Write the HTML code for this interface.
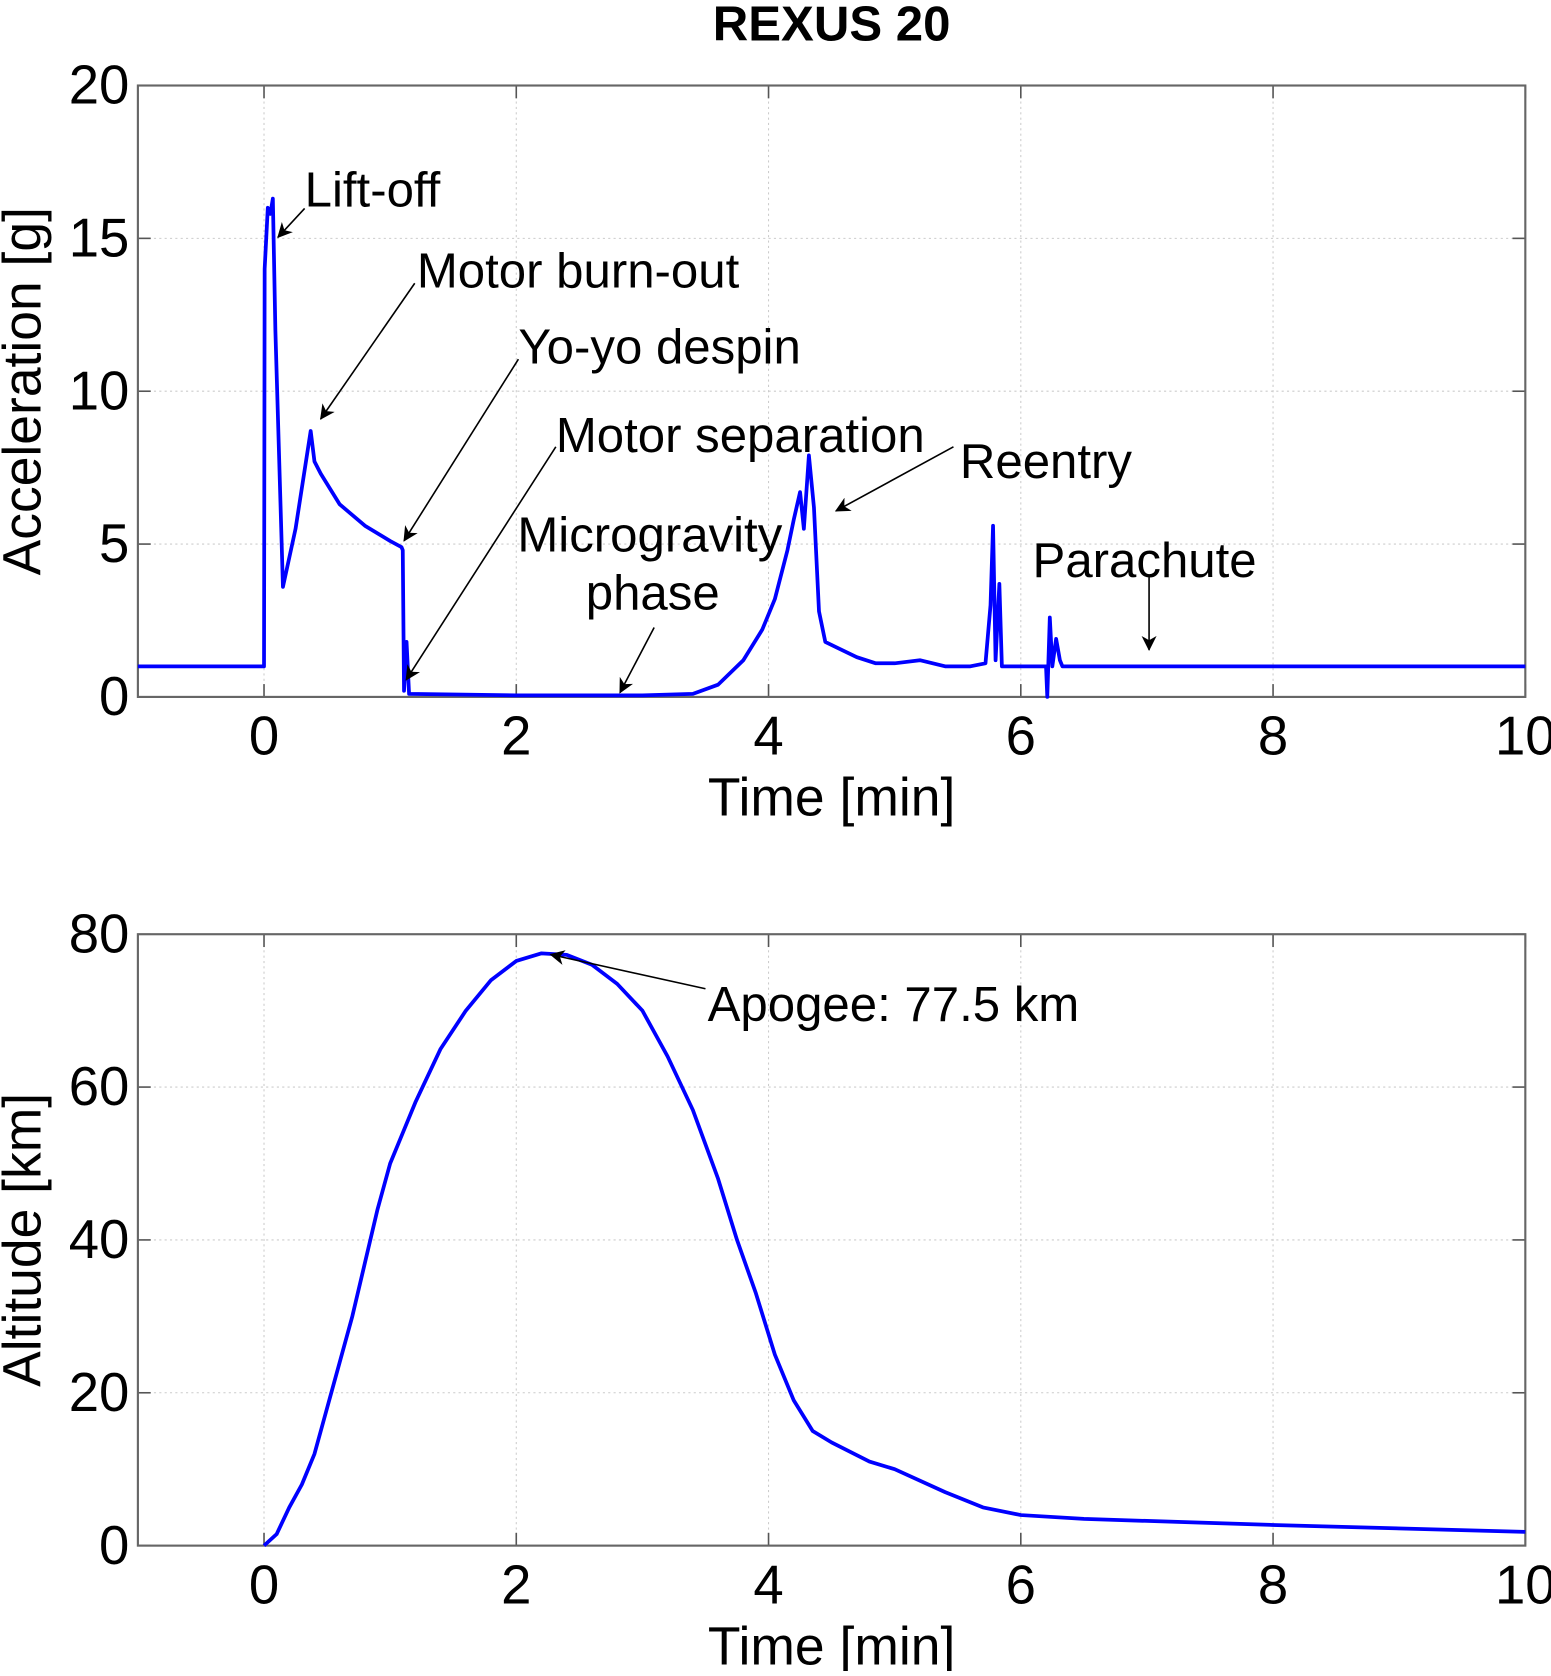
<!DOCTYPE html>
<html><head><meta charset="utf-8"><style>
body{margin:0;background:#fff}
svg text{font-family:"Liberation Sans",Arial,sans-serif}
</style></head><body>
<svg id="c" width="1551" height="1671" xmlns="http://www.w3.org/2000/svg">
<defs><marker id="ah" markerWidth="14" markerHeight="14" refX="13" refY="7" orient="auto" markerUnits="userSpaceOnUse"><path d="M0,0 L14,7 L0,14 L4,7 Z" fill="#000"/></marker></defs>
<g id="root" transform="scale(1.0689)"></g>
</svg>
<script>
const accT=[-1,0,0.005,0.03,0.05,0.07,0.09,0.15,0.25,0.37,0.4,0.45,0.6,0.8,1.0,1.09,1.1,1.11,1.13,1.15,2,3,3.4,3.6,3.8,3.95,4.05,4.15,4.2,4.25,4.28,4.32,4.36,4.4,4.45,4.55,4.7,4.85,5.0,5.2,5.4,5.6,5.72,5.76,5.78,5.8,5.83,5.85,5.88,5.92,6.2,6.21,6.23,6.25,6.28,6.31,6.33,6.37,8,10];
const accV=[1,1,14,16,15.8,16.3,12,3.6,5.5,8.7,7.7,7.3,6.3,5.6,5.1,4.9,4.8,0.2,1.8,0.1,0.05,0.05,0.1,0.4,1.2,2.2,3.2,4.8,5.8,6.7,5.5,7.9,6.2,2.8,1.8,1.6,1.3,1.1,1.1,1.2,1.0,1.0,1.1,3,5.6,1.2,3.7,1.0,1.0,1.0,1.0,0,2.6,1,1.9,1.2,1,1,1,1];
const altT=[0,0.1,0.2,0.3,0.4,0.5,0.6,0.7,0.8,0.9,1.0,1.1,1.2,1.4,1.6,1.8,2.0,2.2,2.4,2.6,2.8,3.0,3.2,3.4,3.6,3.75,3.9,4.05,4.2,4.35,4.5,4.8,5.0,5.4,5.7,6.0,6.5,8,10];
const altV=[0,1.5,5,8,12,18,24,30,37,44,50,54,58,65,70,74,76.5,77.5,77.3,76,73.5,70,64,57,48,40,33,25,19,15,13.5,11,10,7,5,4,3.5,2.7,1.8];
const xTicks=[0,2,4,6,8,10];
const accTicks=[0,5,10,15,20];
const altTicks=[0,20,40,60,80];
const NS="http://www.w3.org/2000/svg";
const svg=document.getElementById('root');
function mk(tag,a,parent){const e=document.createElementNS(NS,tag);for(const k in a)e.setAttribute(k,a[k]);(parent||svg).appendChild(e);return e;}
const L=129,R=1427;
const X=t=>L+(t+1)/11*(R-L);
function panel(top,bot,ymax,ticks,T,V,ylab,name){
  const Y=v=>bot-v/ymax*(bot-top);
  const g=mk('g',{});
  
  
  xTicks.forEach(t=>{const l=mk('line',{x1:X(t),x2:X(t),y1:top,y2:bot,stroke:'#ccc','stroke-dasharray':'2,3'},g);
    const tx=mk('text',{x:X(t),y:bot+54,'font-size':51,'text-anchor':'middle'},g);tx.textContent=t;
    mk('line',{x1:X(t),x2:X(t),y1:bot,y2:bot-12,stroke:'#555','stroke-width':1.5},g);mk('line',{x1:X(t),x2:X(t),y1:top,y2:top+12,stroke:'#555','stroke-width':1.5},g);});
  ticks.forEach(v=>{const l=mk('line',{x1:L,x2:R,y1:Y(v),y2:Y(v),stroke:'#ccc','stroke-dasharray':'2,3'},g);
    const tx=mk('text',{x:L-8,y:Y(v)+17,'font-size':51,'text-anchor':'end'},g);tx.textContent=v;
    mk('line',{x1:L,x2:L+12,y1:Y(v),y2:Y(v),stroke:'#555','stroke-width':1.5},g);mk('line',{x1:R,x2:R-12,y1:Y(v),y2:Y(v),stroke:'#555','stroke-width':1.5},g);});
  const b=mk('rect',{x:L,y:top,width:R-L,height:bot-top,fill:'none',stroke:'#666','stroke-width':2},g);
  
  const p=mk('polyline',{points:T.map((t,i)=>X(t)+','+Y(V[i])).join(' '),fill:'none',stroke:'#0000ff','stroke-width':3.5,'stroke-linejoin':'round'},g);
  
  const xl=mk('text',{x:778,y:bot+111,'font-size':50,'text-anchor':'middle'},g);xl.textContent='Time [min]';
  
  const cy=(top+bot)/2;
  const yl=mk('text',{x:38,y:cy,'font-size':50,'text-anchor':'middle',transform:`rotate(-90 38 ${cy})`},g);yl.textContent=ylab;
  
}
panel(80,652,20,accTicks,accT,accV,'Acceleration [g]','acceleration-panel');
panel(874,1446,80,altTicks,altT,altV,'Altitude [km]','altitude-panel');
const ti=mk('text',{x:778,y:38,'font-size':46,'font-weight':'bold','text-anchor':'middle'});ti.textContent='REXUS 20';

const ann=[['Lift-off',285,178,285,195,260,222],['Motor burn-out',390,254,388,265,300,392],['Yo-yo despin',485,325,485,336,378,506],['Motor separation',520,408,520,418,380,636],['Reentry',898,432,892,418,782,478],['Parachute',966,525,1075,540,1075,608],['Apogee: 77.5 km',662,940,660,925,515,893]];
ann.forEach(a=>{const t=mk('text',{x:a[1],y:a[2]+15,'font-size':46});t.textContent=a[0];
  
  const l=mk('line',{x1:a[3],y1:a[4],x2:a[5],y2:a[6],stroke:'#000','stroke-width':1.5,'marker-end':'url(#ah)'});
  });
const m1=mk('text',{x:484,y:516,'font-size':46});m1.textContent='Microgravity';

const m2=mk('text',{x:548,y:570,'font-size':46});m2.textContent='phase';

const ma=mk('line',{x1:612,y1:587,x2:580,y2:648,stroke:'#000','stroke-width':1.5,'marker-end':'url(#ah)'});

</script>
</body></html>
